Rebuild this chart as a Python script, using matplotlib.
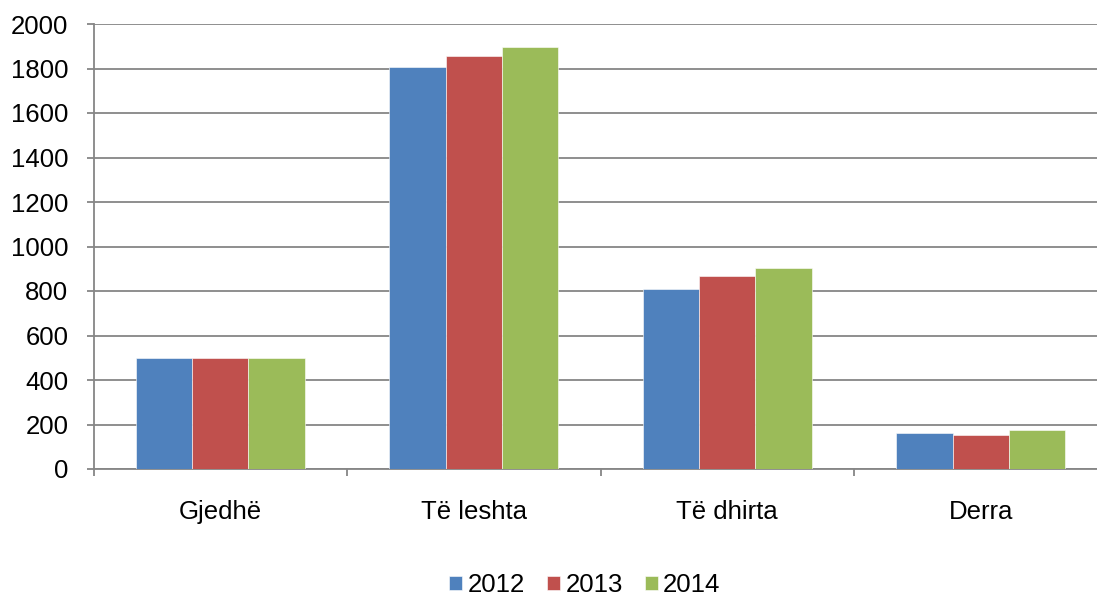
import matplotlib.pyplot as plt
import numpy as np

plt.rcParams['font.family'] = ['Liberation Sans', 'DejaVu Sans']

categories = ['Gjedhë', 'Të leshta', 'Të dhirta', 'Derra']
years = ['2012', '2013', '2014']
v2012 = [498, 1808, 808, 160]
v2013 = [499, 1855, 868, 153]
v2014 = [500, 1895, 905, 174]
colors = ['#4F81BD', '#C0504D', '#9BBB59']

W, H = 1097, 601
fig = plt.figure(figsize=(W / 100, H / 100), dpi=100)
# plot area runs slightly past the right edge, like the original
ax = fig.add_axes([93.5 / W, (H - 469) / H, 1014 / W, 445 / H])

x = np.arange(len(categories))
bw = 1 / 4.5
for i, (vals, c, lab) in enumerate(zip([v2012, v2013, v2014], colors, years)):
    ax.bar(x + (i - 1) * bw, vals, width=bw, color=c, label=lab,
           edgecolor='white', linewidth=0.4, zorder=3)

ax.set_xlim(-0.5, len(categories) - 0.5)
ax.set_ylim(0, 2000)
ax.set_yticks(np.arange(0, 2001, 200))
ax.yaxis.grid(True, color='#868686', linewidth=1.3, zorder=0)
ax.set_axisbelow(True)

fs = 18.5
ax.set_xticks(x)
ax.set_xticklabels(categories)
ax.set_xticks(np.arange(-0.5, len(categories), 1), minor=True)
ax.tick_params(axis='x', which='major', length=0, pad=22, labelsize=fs)
ax.tick_params(axis='x', which='minor', length=5, width=1.3, color='#868686', direction='out')
ax.tick_params(axis='y', length=5, width=1.3, color='#868686', pad=13, labelsize=fs)

for s in ['top', 'right']:
    ax.spines[s].set_visible(False)
for s in ['left', 'bottom']:
    ax.spines[s].set_color('#868686')
    ax.spines[s].set_linewidth(1.3)

fig.legend(loc='center', bbox_to_anchor=(585 / W, 1 - 585 / H), ncol=3,
           frameon=False, fontsize=fs, handlelength=0.5, handleheight=0.5,
           handletextpad=0.22, columnspacing=0.85, borderpad=0)

fig.savefig('out.png', dpi=100)
